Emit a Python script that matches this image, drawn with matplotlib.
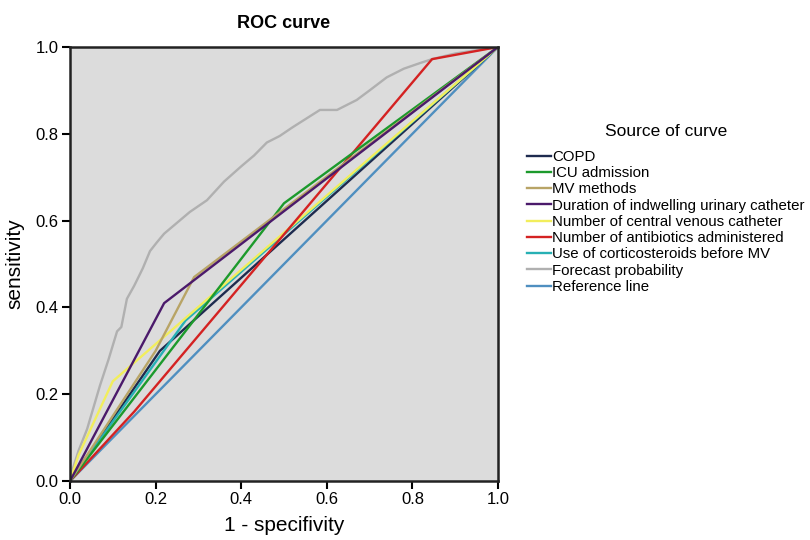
""" ROC curves for predictors, SPSS style """

import matplotlib.pyplot as plt

plt.rcParams['font.family'] = ['Liberation Sans', 'DejaVu Sans']

# one ROC curve per predictor: (1 - specificity, sensitivity)
copd_x = [0.0, 0.21, 1.0]
copd_y = [0.0, 0.30, 1.0]
icu_x = [0.0, 0.50, 1.0]
icu_y = [0.0, 0.64, 1.0]
mv_x = [0.0, 0.20, 0.29, 1.0]
mv_y = [0.0, 0.30, 0.47, 1.0]
urinary_x = [0.0, 0.22, 1.0]
urinary_y = [0.0, 0.41, 1.0]
cvc_x = [0.0, 0.02, 0.10, 1.0]
cvc_y = [0.0, 0.06, 0.23, 1.0]
antib_x = [0.0, 0.15, 0.846, 1.0]
antib_y = [0.0, 0.16, 0.972, 1.0]
steroid_x = [0.0, 0.27, 1.0]
steroid_y = [0.0, 0.37, 1.0]
forecast_x = [0.0, 0.007, 0.02, 0.04, 0.055, 0.07, 0.09, 0.11, 0.12, 0.125,
              0.133, 0.15, 0.17, 0.187, 0.203, 0.22, 0.25, 0.28, 0.32, 0.36,
              0.40, 0.43, 0.46, 0.49, 0.52, 0.56, 0.584, 0.624, 0.67, 0.70,
              0.74, 0.78, 0.818, 0.846, 0.90, 1.0]
forecast_y = [0.0, 0.03, 0.07, 0.12, 0.17, 0.22, 0.28, 0.345, 0.355, 0.38,
              0.42, 0.45, 0.49, 0.53, 0.55, 0.57, 0.595, 0.62, 0.647, 0.69,
              0.725, 0.75, 0.78, 0.795, 0.815, 0.84, 0.855, 0.855, 0.878, 0.90,
              0.93, 0.95, 0.963, 0.972, 0.985, 1.0]
ref_x = [0.0, 1.0]
ref_y = [0.0, 1.0]

labels = ["COPD", "ICU admission", "MV methods",
          "Duration of indwelling urinary catheter",
          "Number of central venous catheter",
          "Number of antibiotics administered",
          "Use of corticosteroids before MV",
          "Forecast probability", "Reference line"]
curves = [(copd_x, copd_y), (icu_x, icu_y), (mv_x, mv_y),
          (urinary_x, urinary_y), (cvc_x, cvc_y), (antib_x, antib_y),
          (steroid_x, steroid_y), (forecast_x, forecast_y), (ref_x, ref_y)]
colors = ["#1e2b4f", "#1c9a2c", "#b8a466", "#4b1a6b", "#f2ee5c",
          "#d42222", "#27b0b4", "#b0b0b0", "#4f8fc0"]

fig = plt.figure(figsize=(8.1, 5.4), dpi=100)
ax = fig.add_axes([0.0864, 0.109, 0.5284, 0.804])
ax.set_facecolor("#dcdcdc")

# draw reference and forecast first so the predictor lines sit on top
order = [8, 7, 0, 6, 4, 5, 1, 2, 3]
handles = [None] * len(labels)
for i in order:
    x, y = curves[i]
    handles[i], = ax.plot(x, y, color=colors[i], lw=1.7, label=labels[i])

ax.set_xlim(0, 1)
ax.set_ylim(0, 1)
ticks = [0.0, 0.2, 0.4, 0.6, 0.8, 1.0]
ax.set_xticks(ticks)
ax.set_yticks(ticks)
ax.set_xticklabels([f"{t:.1f}" for t in ticks], fontsize=12)
ax.set_yticklabels([f"{t:.1f}" for t in ticks], fontsize=12)
ax.tick_params(direction='out', length=6, width=1.5, color='black', pad=2)
for side in ax.spines.values():
    side.set_linewidth(1.8)
    side.set_color('#222222')

ax.set_xlabel("1 - specifivity", fontsize=15, labelpad=6)
ax.set_ylabel("sensitivity", fontsize=15, labelpad=8)
ax.set_title("ROC curve", fontsize=13, fontweight='bold', pad=14)

leg = fig.legend(handles, labels, loc='upper left',
                 bbox_to_anchor=(0.643, 0.782), frameon=False,
                 title="Source of curve", title_fontsize=12.5, fontsize=10.8,
                 handlelength=1.6, handletextpad=0.1, labelspacing=0.15,
                 borderaxespad=0)
leg._legend_box.align = "center"
leg._legend_box.sep = 8

plt.savefig('out.png', dpi=100)
